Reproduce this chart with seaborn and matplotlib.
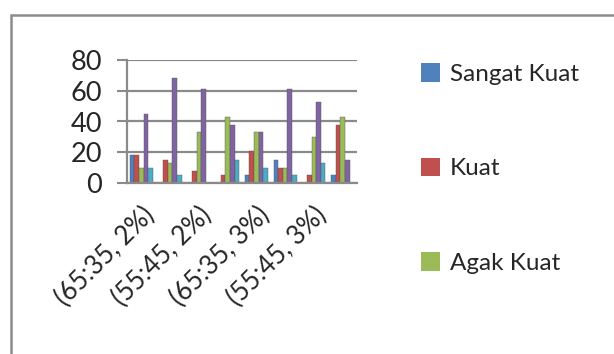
import pandas as pd
import numpy as np
import matplotlib.pyplot as plt
import seaborn as sns
from matplotlib.patches import Patch, Rectangle

# Data (percent per category)
categories = ["(65:35, 2%)", "(60:40, 2%)", "(55:45, 2%)", "(50:50, 2%)",
              "(65:35, 3%)", "(60:40, 3%)", "(55:45, 3%)", "(50:50, 3%)"]
series = ["Sangat Kuat", "Kuat", "Agak Kuat", "Lemah", "Sangat Lemah"]
sangat_kuat = [18, 0, 0, 0, 5, 15, 0, 5]
kuat = [18, 15, 8, 5, 21, 10, 5, 38]
agak_kuat = [10, 13, 33, 43, 33, 10, 30, 43]
lemah = [45, 68, 61, 38, 33, 61, 53, 15]
sangat_lemah = [10, 5, 0, 15, 10, 5, 13, 0]
shown_labels = [c if i % 2 == 0 else "" for i, c in enumerate(categories)]

colors = ["#4F81BD", "#C0504D", "#9BBB59", "#8064A2", "#4BACC6"]

df = pd.DataFrame({"kategori": categories, "Sangat Kuat": sangat_kuat, "Kuat": kuat,
                   "Agak Kuat": agak_kuat, "Lemah": lemah, "Sangat Lemah": sangat_lemah})
long_df = df.melt(id_vars="kategori", var_name="seri", value_name="nilai")

sns.set_style("white")
plt.rcParams["font.family"] = ["Lato", "DejaVu Sans"]

fig = plt.figure(figsize=(6.14, 3.54), dpi=100)
ax = fig.add_axes([127 / 614, 1 - 183 / 354, 230 / 614, 123 / 354])

sns.barplot(data=long_df, x="kategori", y="nilai", hue="seri", order=categories,
            hue_order=series, palette=colors, width=0.8, saturation=1,
            edgecolor="#555555", linewidth=0.3, legend=False, ax=ax)

ax.set_ylim(0, 80)
ax.set_xlim(-0.5, 7.5)
ax.set_yticks([0, 20, 40, 60, 80])
ax.yaxis.grid(True, color="#8a8a8a", linewidth=1.6)
ax.set_axisbelow(True)
ax.set_xlabel("")
ax.set_ylabel("")

ax.set_xticks(range(len(categories)))
ax.set_xticklabels(shown_labels, rotation=45, ha="right", rotation_mode="anchor", fontsize=18.5)
ax.set_xticks(np.arange(-0.5, 8, 1), minor=True)
ax.tick_params(axis="x", which="major", length=0, pad=14)
ax.tick_params(axis="x", which="minor", length=7, width=1.5, color="#8a8a8a", direction="out")
ax.tick_params(axis="y", length=7, width=1.5, color="#8a8a8a", labelsize=19.5, pad=11, left=True)

for side in ["top", "right"]:
    ax.spines[side].set_visible(False)
for side in ["left", "bottom"]:
    ax.spines[side].set_color("#8a8a8a")
    ax.spines[side].set_linewidth(1.6)

handles = [Patch(facecolor=c, edgecolor="none") for c in colors[:3]]
leg = fig.legend(handles, series[:3], loc="upper left", bbox_to_anchor=(421 / 614, 1 - 63 / 354),
                 frameon=False, fontsize=17.5, labelspacing=3.0, handlelength=0.8,
                 handleheight=0.8, handletextpad=0.4, borderpad=0, borderaxespad=0)

# outer chart frame (cut off at right and bottom)
fig.patches.append(Rectangle((11 / 614, -0.1), 1.1, 1 - 15 / 354 + 0.1, transform=fig.transFigure,
                             fill=False, edgecolor="#8c8c8c", linewidth=1.8))

fig.savefig("out.png", dpi=100)
